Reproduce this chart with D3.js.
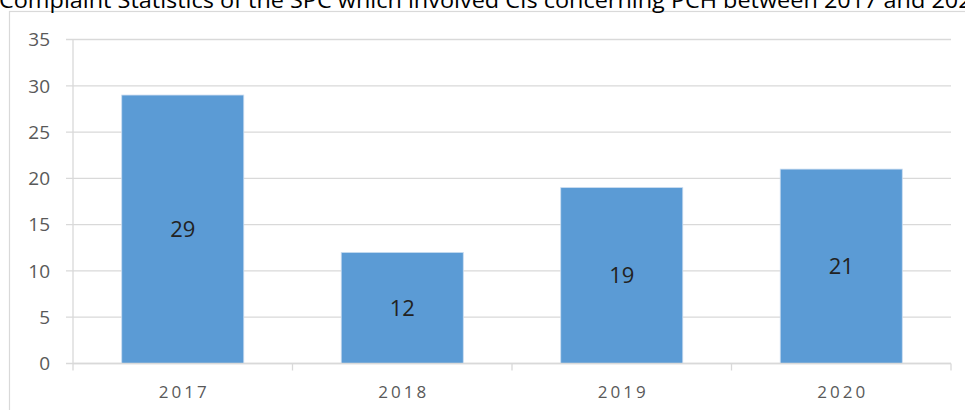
<!DOCTYPE html>
<html>
<head>
<meta charset="utf-8">
<style>
  body { margin: 0; background: #fff; }
  svg { display: block; }
</style>
</head>
<body>
<svg width="965" height="410"></svg>
<script src="https://cdn.jsdelivr.net/npm/d3@7/dist/d3.min.js"></script>
<script>
const years = ["2017", "2018", "2019", "2020"];
const complaints = [29, 12, 19, 21];
const yTicks = [0, 5, 10, 15, 20, 25, 30, 35];
const titleText = "Complaint Statistics of the SPC which involved CIs concerning PCH between 2017 and 2020";

const svg = d3.select("svg");
const font = "'Open Sans', 'Noto Sans', sans-serif";

// chart frame (runs off the right edge of the window)
svg.append("rect")
  .attr("x", 9.5).attr("y", 11.5)
  .attr("width", 1000).attr("height", 420)
  .attr("fill", "#fff")
  .attr("stroke", "#d9d9d9").attr("stroke-width", 1.2);

// title, cut off at the top and the right like the source image
svg.append("text")
  .attr("x", -1).attr("y", 8)
  .attr("font-family", font).attr("font-size", 21)
  .attr("fill", "#000")
  .attr("textLength", 986).attr("lengthAdjust", "spacingAndGlyphs")
  .text(titleText);

const plotL = 73, plotR = 951, plotT = 39.5, plotB = 363.5;

const x = d3.scaleBand().domain(years).range([plotL, plotR])
  .paddingInner(0.444).paddingOuter(0.222);
const y = d3.scaleLinear().domain([0, 35]).range([plotB, plotT]);

// gridlines
svg.append("g")
  .selectAll("line")
  .data(yTicks)
  .join("line")
  .attr("x1", plotL - 7).attr("x2", plotR)
  .attr("y1", d => y(d)).attr("y2", d => y(d))
  .attr("stroke", "#d9d9d9").attr("stroke-width", 1.3);

// y labels
svg.append("g")
  .selectAll("text")
  .data(yTicks)
  .join("text")
  .attr("x", 50).attr("y", d => y(d))
  .attr("dy", "0.36em")
  .attr("text-anchor", "end")
  .attr("font-family", font).attr("font-size", 19)
  .attr("fill", "#595959")
  .text(d => d);

// vertical axis line
svg.append("line")
  .attr("x1", plotL).attr("x2", plotL)
  .attr("y1", plotT).attr("y2", plotB)
  .attr("stroke", "#d9d9d9").attr("stroke-width", 1.3);

// bars
svg.append("g")
  .selectAll("rect")
  .data(complaints)
  .join("rect")
  .attr("x", (d, i) => x(years[i]))
  .attr("y", d => y(d))
  .attr("width", x.bandwidth())
  .attr("height", d => plotB - y(d))
  .attr("fill", "#5b9bd5")
  .attr("stroke", "#c9dcf0").attr("stroke-width", 0.8);

// x axis line and tick marks
svg.append("line")
  .attr("x1", plotL).attr("x2", plotR)
  .attr("y1", plotB).attr("y2", plotB)
  .attr("stroke", "#d9d9d9").attr("stroke-width", 1.3);

const step = (plotR - plotL) / years.length;
svg.append("g")
  .selectAll("line")
  .data(d3.range(years.length + 1))
  .join("line")
  .attr("x1", i => plotL + i * step).attr("x2", i => plotL + i * step)
  .attr("y1", plotB).attr("y2", plotB + 7)
  .attr("stroke", "#d9d9d9").attr("stroke-width", 1.3);

// x labels
svg.append("g")
  .selectAll("text")
  .data(years)
  .join("text")
  .attr("x", d => x(d) + x.bandwidth() / 2 + 1.5)
  .attr("y", 398)
  .attr("text-anchor", "middle")
  .attr("font-family", font).attr("font-size", 17)
  .attr("letter-spacing", "3px")
  .attr("fill", "#595959")
  .text(d => d);

// data labels in the middle of each bar
svg.append("g")
  .selectAll("text")
  .data(complaints)
  .join("text")
  .attr("x", (d, i) => x(years[i]) + x.bandwidth() / 2)
  .attr("y", d => (y(d) + plotB) / 2)
  .attr("dy", "0.36em")
  .attr("text-anchor", "middle")
  .attr("font-family", font).attr("font-size", 22)
  .attr("fill", "#222")
  .text(d => d);
</script>
</body>
</html>
